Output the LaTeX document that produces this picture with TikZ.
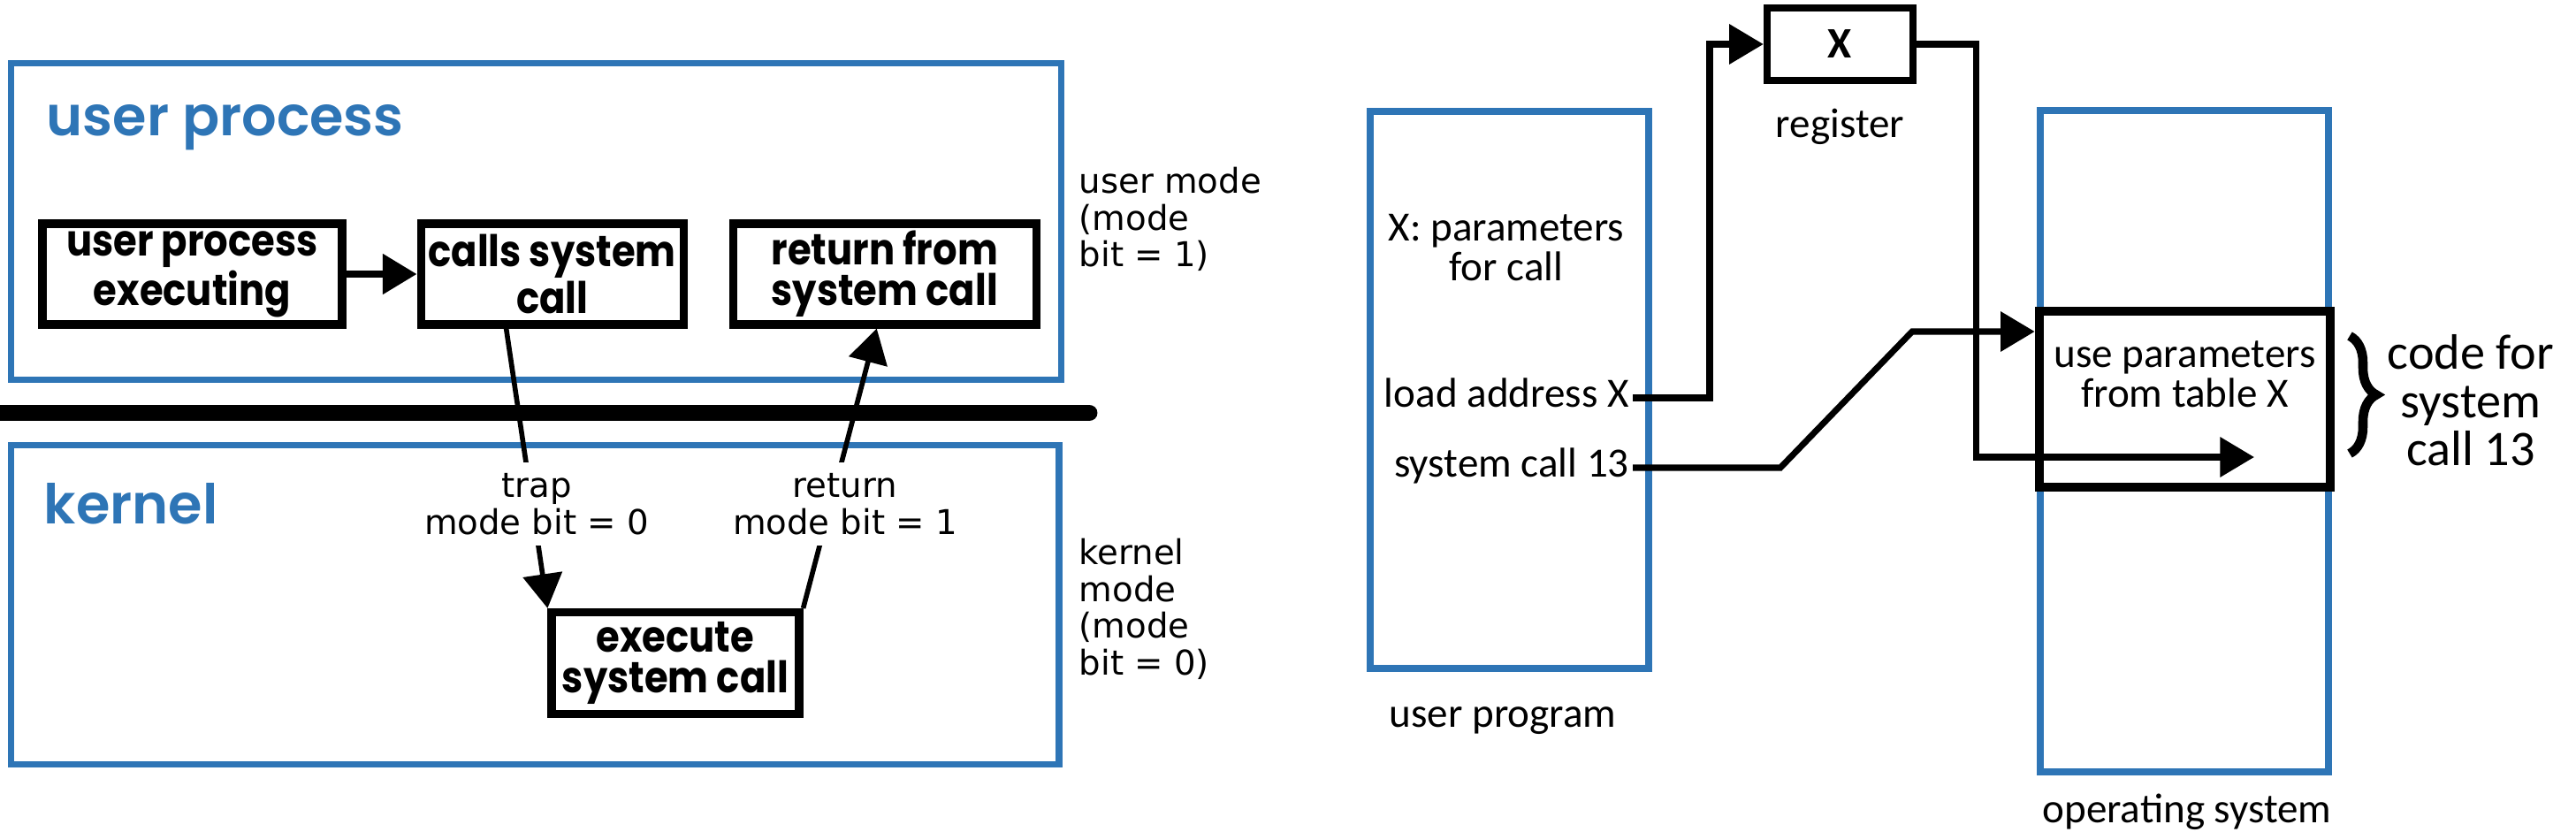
\documentclass[tikz,border=0pt]{standalone}
\usepackage{fontspec}
\usepackage{xcolor}
\usepackage{tikz}
\usetikzlibrary{arrows.meta}
\usetikzlibrary{positioning, decorations.pathreplacing}
\newfontfamily\gothicfont{Poppins}[FakeStretch=0.88]
\IfFontExistsTF{Poppins SemiBold}
  {\newfontfamily\titlefont{Poppins SemiBold}}
  {\newfontfamily\titlefont{Poppins Bold}}
\newfontfamily\lblfont{DejaVu Sans}
\newfontfamily\calfont{Carlito}
\definecolor{procblue}{RGB}{46,117,182}

\begin{document}
\begin{tikzpicture}[
    area/.style={draw=procblue, line width=2.2pt},
    proc/.style={draw, line width=2.6pt, minimum height=1.14cm, inner sep=0pt,
      align=center, font=\gothicfont\bfseries\fontsize{14}{13.2}\selectfont},
    ttl/.style={text=procblue, inner sep=0pt, font=\titlefont\fontsize{17.7}{20}\selectfont},
    mlbl/.style={align=center, font=\lblfont\fontsize{11}{11.8}\selectfont},
    plbl/.style={align=center, inner sep=1pt, font=\calfont\fontsize{13.4}{12.6}\selectfont},
    prog/.style={plbl, anchor=east, text height=1.4ex, text depth=0pt},
    arr/.style={-{Triangle[length=11pt,width=12.5pt]}, line width=2.4pt},
    tarr/.style={arr, line width=1.6pt},
    rarr/.style={arr, line width=2pt}]
    \useasboundingbox (0,0) rectangle (29.14,9.40);
    \fill[white] (0,0) rectangle (29.14,9.40);

    % user / kernel side
    \draw[area] (0.125,8.685) rectangle (12.005,5.105);
    \draw[area] (0.125,4.365) rectangle (11.98,0.755);
    \draw[line width=5.4pt, line cap=round] (-0.2,4.73) -- (12.32,4.73);
    \node[ttl, anchor=base west] (tup) at (0.52,7.87) {user process};
    \node[ttl, anchor=base west] (tker) at (0.49,3.48) {kernel};

    \node[proc, minimum width=3.39cm] (exec) at (2.175,6.30) {user process\\executing};
    \node[proc, minimum width=2.97cm, right=0.8cm of exec] (calls) {calls system\\call};
    \node[proc, minimum width=3.43cm, right=0.47cm of calls] (ret) {return from\\system call};
    \node[proc, minimum width=2.80cm, minimum height=1.15cm] (exe) at (7.64,1.90) {execute\\system call};

    \draw[arr] (exec) -- (calls);
    \draw[tarr] ([xshift=-5.2mm]calls.south) -- (exe.north west);
    \draw[tarr] (exe.north east) -- ([xshift=-0.9mm]ret.south);
    \node[mlbl, fill=white, inner ysep=0.12cm] (trap) at (6.07,3.70) {trap\\mode bit = 0};
    \node[mlbl, fill=white, inner ysep=0.12cm] (rtn) at (9.56,3.70) {return\\mode bit = 1};

    \node[mlbl, align=left, anchor=west, inner sep=0pt] (umode) at (12.20,6.92) {user mode\\(mode\\bit = 1)};
    \node[mlbl, align=left, anchor=west, inner sep=0pt] (kmode) at (12.20,2.51) {kernel\\mode\\(mode\\bit = 0)};

    % user program / operating system side
    \draw[area] (15.50,8.14) rectangle (18.65,1.84);
    \draw[area] (23.08,8.15) rectangle (26.34,0.67);
    \node[plbl] (xpar) at (17.04,6.60) {X: parameters\\for call};
    \node[prog] (ld) at (18.47,4.90) {load address X};
    \node[prog] (sc) at (18.47,4.11) {system call 13};
    \node[plbl] (uprl) at (17.00,1.25) {user program};

    \node[draw, line width=2.4pt, minimum width=1.65cm, minimum height=0.82cm,
      font=\calfont\bfseries\fontsize{14}{14}\selectfont] (reg) at (20.815,8.90) {X};
    \node[plbl, below=2.4mm of reg] (regl) {register};

    \node[draw, fill=white, line width=3pt, minimum width=3.29cm, minimum height=1.99cm] (code) at (24.715,4.885) {};
    \node[plbl, below=3.5mm of code.north] (usep) {use parameters\\from table X};
    \coordinate (tip) at (25.50,4.23);

    \draw[rarr] (ld.east) -- ++(0.87,0) |- (reg.west);
    \draw[rarr] (reg.east) -- ++(0.67,0) |- (tip);
    \draw[rarr] (sc.east) -- ++(1.67,0) -- (21.63,5.65) -- (code.west |- 0,5.65);

    \draw[line width=3pt, decorate, decoration={brace, amplitude=0.3cm}] (26.58,5.60) -- (26.58,4.27);
    \node[align=center, font=\calfont\fontsize{16}{15.5}\selectfont] (cf) at (27.95,4.87) {code for\\system\\call 13};
    \node[plbl, anchor=base] (osl) at (24.74,0.10) {operating system};
\end{tikzpicture}
\end{document}
